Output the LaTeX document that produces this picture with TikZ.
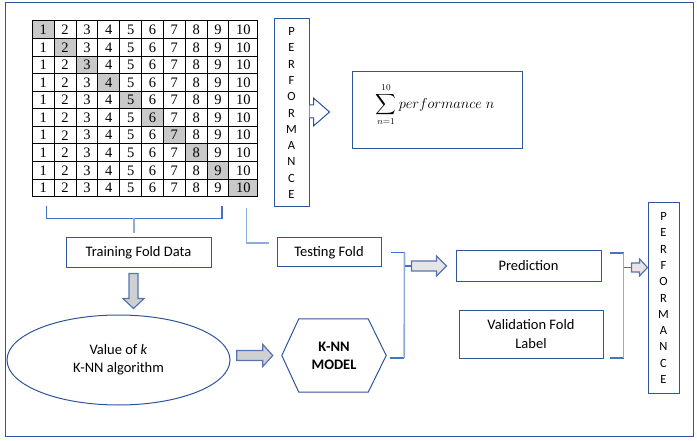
\documentclass[tikz,border=0pt]{standalone}
\usepackage{amsmath}
\usepackage{fontspec}
\setmainfont{Carlito}
\newfontfamily\numfont{Liberation Serif}
\usetikzlibrary{positioning}
\usetikzlibrary{shapes.geometric}

\definecolor{boxblue}{HTML}{2F5597}
\definecolor{linkblue}{HTML}{4472C4}
\definecolor{paleblue}{HTML}{8FAADC}
\definecolor{arrowedge}{HTML}{5574B0}
\definecolor{arrowgray}{HTML}{D0D0D0}
\definecolor{arrowlight}{HTML}{E7E6E6}
\definecolor{cellgray}{HTML}{C9C9C9}

\tikzset{
    box/.style={draw=boxblue, line width=1pt, inner sep=0pt, align=center, font=\fontsize{14.5}{17}\selectfont},
    perfbox/.style={box, font=\fontsize{12.5}{16.3}\selectfont},
    cell/.style={draw=black, line width=1pt, inner sep=0pt, minimum height=17.57, font=\numfont\fontsize{14.5}{16}\selectfont},
    link/.style={draw=linkblue, line width=1.2pt},
    palelink/.style={draw=paleblue, line width=1.6pt},
    blockarrow/.style={draw=arrowedge, fill=arrowgray, line width=1.2pt, line join=miter},
    lightarrow/.style={blockarrow, fill=arrowlight},
}

\begin{document}
\begin{tikzpicture}[x=1pt,y=-1pt]
        \useasboundingbox (0,0) rectangle (697,441);
        \draw[boxblue, line width=1pt] (5,3) rectangle (693,436);
        % fold grid
        \foreach \r in {1,...,10} {
                \foreach \c in {1,...,10} {
                        \ifnum\r=\c \def\cellfill{cellgray}\else\def\cellfill{white}\fi
                        \ifnum\c=10 \def\cellw{28.7}\else\def\cellw{21.85}\fi
                        \node[cell, fill=\cellfill, minimum width=\cellw] (c-\r-\c)
                            at ({32.3+(\c-1)*21.85+\cellw/2}, {21+(\r-0.5)*17.57}) {\c};
                    }
            }
        \node[perfbox, minimum width=35, minimum height=188] (perf1) at (291.5,113) {P\\E\\R\\F\\O\\R\\M\\A\\N\\C\\E};
        \node[box, minimum width=170, minimum height=77] (sum) at (437,110.5) {};
        \node[font=\fontsize{13.5}{16}\selectfont] (sumtext) at ([xshift=-2pt,yshift=6pt]sum.center)
            {$\displaystyle\sum_{n=1}^{10} performance\; n$};
        \draw[boxblue, fill=white, line width=1pt] ([yshift=8pt]perf1.east) -- ++(4,0) -- ++(0,-7)
            -- ++(16,14) -- ++(-16,14) -- ++(0,-8) -- ++(-4,0);
        % boxes
        \node[box, minimum width=145, minimum height=30] (train) at (138.5,253) {Training Fold Data};
        \node[box, minimum width=104, minimum height=29] (test) at (329,252.5) {Testing Fold};
        \node[box, minimum width=145, minimum height=30] (pred) at (528.5,266) {Prediction};
        \node[box, minimum width=144, minimum height=48, font=\fontsize{14.5}{19}\selectfont] (valid) at (531,334) {Validation Fold\\Label};
        \node[perfbox, minimum width=31, minimum height=190] (perf2) at (663.5,298) {P\\E\\R\\F\\O\\R\\M\\A\\N\\C\\E};
        \node[draw=boxblue, line width=1pt, ellipse, minimum width=223, minimum height=90, align=center,
            font=\fontsize{14.5}{18}\selectfont] (algo) at (118.5,360) {Value of \textit{k}\\K-NN algorithm};
        \node[align=center, inner sep=0pt, minimum width=104, minimum height=73,
            font=\bfseries\fontsize{14.5}{18}\selectfont] (knn) at (334,355.5) {K-NN\\MODEL};
        \draw[boxblue, line width=1pt] (knn.west) -- ([xshift=17pt]knn.north west) -- ([xshift=-18pt]knn.north east)
            -- (knn.east) -- ([xshift=-18pt]knn.south east) -- ([xshift=17pt]knn.south west) -- cycle;
        % brackets
        \coordinate (trainstem) at (134,218);
        \draw[link] ([xshift=3pt,yshift=-9pt]c-10-1.south) -- ++(0,12) -| ([xshift=4pt,yshift=-9pt]c-10-9.south);
        \draw[palelink] (trainstem) -- ([xshift=-4.5pt,yshift=4pt]train.north);
        \draw[palelink] ([xshift=3pt,yshift=-11pt]c-10-10.south) |- ([xshift=-8pt,yshift=9.5pt]test.west);
        \coordinate (mtop) at ([xshift=23pt]test.east);
        \coordinate (mbot) at ([xshift=18pt,yshift=-2.5pt]knn.east);
        \coordinate (mstem) at ([xshift=-44pt]pred.west);
        \draw[link] ([xshift=9pt]test.east) -- (mtop);
        \draw[link] ([xshift=4pt,yshift=-2.5pt]knn.east) -- (mbot);
        \draw[palelink] (mtop) -- (mbot);
        \draw[link] (mtop |- mstem) -- (mstem);
        \coordinate (rtop) at ([xshift=22pt,yshift=13pt]pred.east);
        \coordinate (rbot) at ([xshift=20pt,yshift=-24pt]valid.east);
        \coordinate (rstem) at ([xshift=-16pt,yshift=30.5pt]perf2.west);
        \draw[link] ([xshift=8pt,yshift=13pt]pred.east) -- (rtop);
        \draw[link] ([xshift=6pt,yshift=-24pt]valid.east) -- (rbot);
        \draw[palelink] (rtop) -- (rbot);
        \draw[link] (rtop |- rstem) -- (rstem);
        % block arrows
        \draw[blockarrow] ([xshift=-9.5pt,yshift=-5pt]train.south) -- ++(9,0) -- ++(0,25) -- ++(6,0)
            -- ++(-10.5,10) -- ++(-10.5,-10) -- ++(6,0) -- cycle;
        \draw[blockarrow] ([xshift=-9pt]knn.west) -- ++(-10,-11) -- ++(0,6) -- ++(-26,0) -- ++(0,10)
            -- ++(26,0) -- ++(0,6) -- cycle;
        \draw[lightarrow] ([xshift=-9pt]pred.west) -- ++(-10,-10) -- ++(0,5) -- ++(-25,0) -- ++(0,10)
            -- ++(25,0) -- ++(0,5) -- cycle;
        \draw[lightarrow] ([yshift=30.5pt]perf2.west) -- ++(-8,-8.5) -- ++(0,4) -- ++(-8,0) -- ++(0,9)
            -- ++(8,0) -- ++(0,4) -- cycle;
    \end{tikzpicture}
\end{document}
